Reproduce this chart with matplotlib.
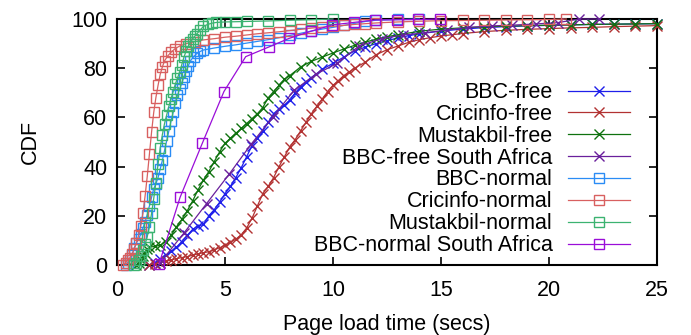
import matplotlib
matplotlib.use("Agg")
import matplotlib.pyplot as plt

plt.rcParams['font.family'] = ['Liberation Sans', 'DejaVu Sans']

# ---------------- data ----------------
bbc_free_x = [1.5, 1.75, 2.0, 2.25, 2.5, 2.75, 3.0, 3.25, 3.5, 3.75, 4.0, 4.25, 4.5, 4.75,
              5.0, 5.25, 5.5, 5.75, 6.0, 6.25, 6.5, 6.75, 7.0, 7.25, 7.5, 7.75, 8.0, 8.25,
              8.5, 8.75, 9.0, 9.5, 10.0, 10.5, 11.0, 11.5, 12.0, 12.5, 13.0, 13.5, 14.0,
              15.0, 16, 17, 18, 19, 20, 21, 22, 23, 24, 25]
bbc_free_y = [0, 1, 2.5, 4, 5.5, 7.2, 9.5, 12, 14.5, 15.8, 16.5, 20, 22.5, 25.5,
              29, 32, 35.5, 39.5, 44, 48.5, 51.5, 54.5, 58, 61.5, 63.5, 65, 67, 70,
              72.5, 74.5, 76.2, 79.5, 82, 84.5, 87, 88.6, 90, 91.2, 92.3, 93.2, 94,
              95.1, 95.9, 96.5, 96.9, 97.2, 97.4, 97.6, 97.8, 97.9, 98, 98.1]

cric_free_x = [1.5, 1.75, 2.0, 2.25, 2.5, 2.75, 3.0, 3.25, 3.5, 3.75, 4.0, 4.25, 4.5, 4.75,
               5.0, 5.25, 5.5, 5.75, 6.0, 6.25, 6.5, 6.75, 7.0, 7.25, 7.5, 7.75, 8.0, 8.25,
               8.5, 8.75, 9.0, 9.25, 9.5, 9.75, 10.0, 10.25, 10.5, 10.75, 11.0, 11.5, 12.0,
               12.5, 13.0, 13.5, 14.0, 14.5, 15.0, 15.5, 16, 17, 18, 19, 20, 21, 22, 23, 24, 25]
cric_free_y = [0, 0.5, 1, 1.5, 2, 2.6, 3, 3.4, 4, 4.5, 5, 5.4, 6.2, 7,
               8, 9.2, 10.5, 12.3, 15, 19, 24, 29, 32, 35.5, 40, 44, 48, 51,
               54.5, 58, 61.5, 64.5, 67.5, 70.5, 73, 75, 77, 78.5, 80, 82.5, 85.5,
               87.5, 89, 90.5, 91.6, 92.4, 93.1, 93.6, 94.1, 94.9, 95.4, 95.8, 96.1, 96.4,
               96.6, 96.9, 97.1, 97.3]

must_free_x = [0.9, 1.0, 1.1, 1.2, 1.3, 1.4, 1.5, 1.75, 2.0, 2.25, 2.5, 2.75, 3.0, 3.25,
               3.5, 3.75, 4.0, 4.25, 4.5, 4.75, 5.0, 5.25, 5.5, 5.75, 6.0, 6.25, 6.5, 6.75,
               7.0, 7.25, 7.5, 7.75, 8.0, 8.5, 9.0, 9.5, 10.0, 10.5, 11.0, 11.5, 12.0, 12.5,
               13.0, 14.0, 15.0, 16, 17, 18, 19, 20, 21, 22, 23, 24, 25]
must_free_y = [0, 1, 2, 3.5, 5, 6.5, 7.2, 7.6, 8, 9.5, 12, 15.5, 18.5, 22,
               26, 30.5, 34.5, 38, 42, 46, 49.5, 51.5, 53.5, 55.5, 57.5, 59.5, 61.5, 64,
               68, 70.5, 73, 75.5, 77, 80.5, 82.8, 84.5, 86.2, 87.8, 89.3, 90.6, 91.8, 92.8,
               93.6, 95, 95.9, 96.4, 96.8, 97.1, 97.3, 97.5, 97.6, 97.8, 97.9, 98, 98.1]

bbcsa_free_x = [2.0, 3.1, 4.15, 5.2, 6.2, 7.2, 8.2, 9.2, 10.2, 11.2, 12.25, 13.25, 14.26,
                15.26, 16.3, 17.35, 18.3, 19.4, 20.4, 21.4, 22.3]
bbcsa_free_y = [1, 13, 25, 37, 49, 60, 71, 77.5, 82, 89, 92, 93.5, 94.4,
                95.5, 96.6, 97.2, 97.5, 98, 98.5, 100, 100]

bbc_norm_x = [0.4, 0.5, 0.6, 0.7, 0.8, 0.9, 1.0, 1.1, 1.2, 1.3, 1.4, 1.5, 1.6, 1.7, 1.8,
              1.9, 2.0, 2.1, 2.2, 2.3, 2.4, 2.5, 2.6, 2.7, 2.8, 2.9, 3.0, 3.1, 3.2, 3.3,
              3.4, 3.55, 3.7, 3.85, 4.0, 4.5, 5.0, 5.5, 6.0, 6.5, 7.0, 7.5, 8.0, 8.5, 9.0,
              9.5, 10.0, 10.5, 11.0, 11.5, 12.0, 13.0, 14.0]
bbc_norm_y = [0, 1, 2, 4, 7, 9, 10.5, 12.5, 15, 17.5, 20.5, 24, 27.5, 31, 33,
              35.5, 39, 42.5, 46.5, 50.5, 54.5, 58.5, 62, 66, 69, 71.5, 74, 76.5, 79, 81,
              83, 84.7, 86, 86.8, 87.4, 88.2, 88.9, 89.5, 90.2, 90.9, 91.6, 92.4, 93.3, 94.2, 95.1,
              95.9, 96.6, 97.4, 98.2, 99, 99.5, 99.8, 100]

cric_norm_x = [0.3, 0.4, 0.5, 0.6, 0.7, 0.8, 0.9, 1.0, 1.1, 1.2, 1.3, 1.4, 1.5, 1.6, 1.7,
               1.8, 1.9, 2.0, 2.1, 2.2, 2.35, 2.5, 2.7, 2.9, 3.2, 3.6, 4.0, 4.5, 5.0, 5.5,
               6.0, 6.5, 7.0, 7.5, 8.0, 8.5, 9.0, 9.5, 10, 10.5, 11, 11.5, 12, 13, 14, 15,
               16, 17, 18, 19, 20, 20.8]
cric_norm_y = [0, 1, 2, 3, 4.5, 6.5, 9, 12, 16, 21, 28, 36, 45, 54, 62,
               68, 73, 77.5, 80.5, 83, 85, 86.5, 88, 89, 90, 90.8, 91.5, 92, 92.6, 93,
               93.5, 94, 94.4, 94.8, 95.3, 95.8, 96.3, 96.7, 97, 97.4, 97.8, 98.1, 98.4, 98.8, 99.1, 99.3,
               99.4, 99.5, 99.6, 99.7, 99.8, 100]

must_norm_x = [0.8, 0.9, 1.0, 1.1, 1.2, 1.3, 1.4, 1.5, 1.6, 1.7, 1.8, 1.9, 2.0, 2.1, 2.2,
               2.3, 2.4, 2.5, 2.6, 2.7, 2.8, 2.9, 3.0, 3.1, 3.2, 3.3, 3.4, 3.5, 3.6, 3.7,
               3.85, 4.0, 4.2, 4.4, 4.6, 5.0, 5.5, 6.0, 7.0, 8.0, 9.0, 10]
must_norm_y = [0, 1, 2, 3.5, 6, 8.5, 11.5, 15.5, 21, 27, 33.5, 41, 47.5, 53, 57.5,
               61, 64.5, 67.5, 70.5, 73.5, 76, 78.5, 81.5, 84.5, 87, 89, 90.5, 92, 93, 94,
               95.5, 97, 97.8, 98.3, 98.6, 98.8, 98.9, 99, 99.2, 99.5, 99.7, 100]

bbcsa_norm_x = [1.95, 2.92, 3.95, 4.95, 5.96, 7.05, 7.96, 8.97, 9.97, 10.95, 11.95, 12.95,
                13.95, 14.95]
bbcsa_norm_y = [0.5, 27.5, 49.5, 70.5, 84.7, 88.7, 92.1, 95, 97.6, 98.6, 99.6, 99.7,
                99.8, 100]

labels = ["BBC-free", "Cricinfo-free", "Mustakbil-free", "BBC-free South Africa",
          "BBC-normal", "Cricinfo-normal", "Mustakbil-normal", "BBC-normal South Africa"]
colors = ['#1f1fea', '#b23232', '#0f720f', '#6a209c',
          '#2a8cf5', '#d86060', '#3cb371', '#9a0ed8']
xs = [bbc_free_x, cric_free_x, must_free_x, bbcsa_free_x,
      bbc_norm_x, cric_norm_x, must_norm_x, bbcsa_norm_x]
ys = [bbc_free_y, cric_free_y, must_free_y, bbcsa_free_y,
      bbc_norm_y, cric_norm_y, must_norm_y, bbcsa_norm_y]
markers = ['x', 'x', 'x', 'x', 's', 's', 's', 's']

xticks = [0, 5, 10, 15, 20, 25]
yticks = [0, 20, 40, 60, 80, 100]

# ---------------- figure ----------------
fig = plt.figure(figsize=(6.91, 3.35), dpi=100)
ax = fig.add_axes([117 / 691, 70 / 335, 540 / 691, 246 / 335])

for x, y, c, m, lab in zip(xs, ys, colors, markers, labels):
    if m == 'x':
        ax.plot(x, y, color=c, lw=0.9, marker='x', ms=7, mew=1.0, label=lab, clip_on=False)
    else:
        ax.plot(x, y, color=c, lw=0.9, marker='s', ms=7.5, mew=1.0, mfc='none', label=lab,
                clip_on=False)

ax.set_xlim(0, 25)
ax.set_ylim(0, 100)
ax.set_xticks(xticks)
ax.set_yticks(yticks)
ax.tick_params(direction='in', length=6, width=1.2, top=True, right=True,
               labelsize=15.5, colors='black')
ax.tick_params(axis='x', pad=11)
ax.tick_params(axis='y', pad=7)
for s in ax.spines.values():
    s.set_linewidth(1.5)
    s.set_zorder(1)

ax.set_xlabel("Page load time (secs)", fontsize=15.5, labelpad=9)
ax.set_ylabel("CDF", fontsize=15.5, labelpad=22)

leg = ax.legend(loc='center right', bbox_to_anchor=((630 - 117) / 540, 0.39),
                frameon=False, markerfirst=False, fontsize=15.5, handlelength=2.9,
                handletextpad=0.7, labelspacing=0.04, borderpad=0, borderaxespad=0,
                numpoints=1)

fig.savefig("out.png", dpi=100)
